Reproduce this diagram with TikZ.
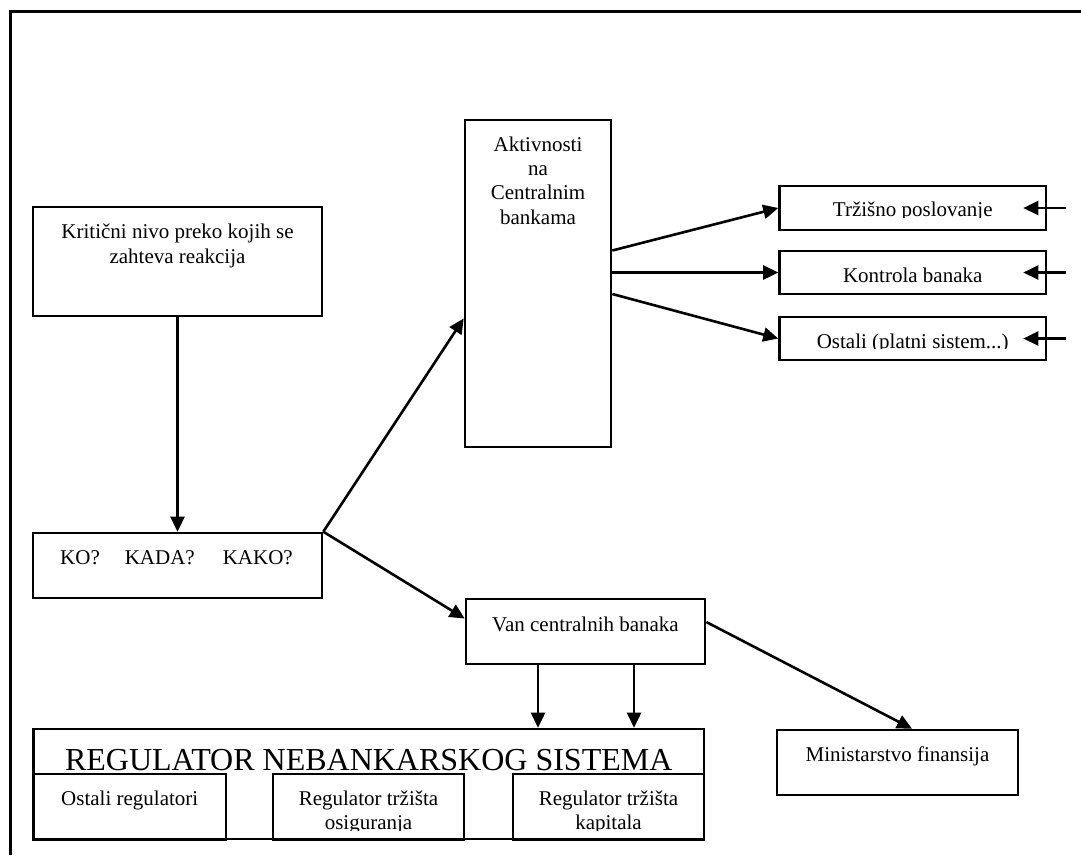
\documentclass[tikz,border=0pt]{standalone}
\usepackage{fontspec}
\setmainfont{Liberation Serif}
\usetikzlibrary{arrows.meta}
\begin{document}
\begin{tikzpicture}[x=1pt,y=-1pt,
  box/.style={draw, line width=2.6pt, inner sep=0pt},
  txt/.style={inner sep=0pt, anchor=base, align=center, font=\fontsize{21}{24.3}\selectfont},
  bigtxt/.style={inner sep=0pt, anchor=base, font=\fontsize{32}{36}\selectfont},
  arr/.style={line width=2.6pt, -{Triangle[length=15pt,width=14pt]}},
  frame/.style={line width=3pt}]
\useasboundingbox (0,0) rectangle (1081,855);
% outer frame (only top and left edges visible)
\draw[frame] (10,855) -- (10,11) -- (1081,11);
% boxes
\node[box, minimum width=289, minimum height=109] (krit) at (177.5,261.5) {};
\node[box, minimum width=289, minimum height=65] (ko) at (177.5,565.5) {};
\node[box, minimum width=146, minimum height=327] (akt) at (538,283.5) {};
\node[box, minimum width=266.5, minimum height=44] (tr) at (912.75,208) {};
\node[box, minimum width=266.5, minimum height=43] (kon) at (912.75,272.5) {};
\node[box, minimum width=266.5, minimum height=43] (ost) at (912.75,338.5) {};
\node[box, minimum width=239, minimum height=65] (van) at (585.5,631.5) {};
\node[box, minimum width=670.5, minimum height=110] (reg) at (368.75,784) {};
\node[box, minimum width=241, minimum height=65] (min) at (897.5,762.5) {};
% texts (base anchor = baseline of the last line)
\node[txt] (kritT) at (177.5,263) {Kritični nivo preko kojih se\\zahteva reakcija};
\node[txt] (koT) at (176.5,564) {KO?\hspace{25pt}KADA?\hspace{28pt}KAKO?};
\node[txt] (aktT) at (538,224) {Aktivnosti\\na\\Centralnim\\bankama};
\begin{scope}
  \clip (780,188) rectangle (1045,217.5);
  \node[txt] (trT) at (912.75,216.7) {Tržišno poslovanje};
\end{scope}
\node[txt] (konT) at (912.75,282.7) {Kontrola banaka};
\begin{scope}
  \clip (780,319) rectangle (1045,348.5);
  \node[txt] (ostT) at (912.75,348) {Ostali (platni sistem...)};
\end{scope}
\node[txt] (vanT) at (585.5,631.7) {Van centralnih banaka};
\node[bigtxt] (regT) at (368.75,770) {REGULATOR NEBANKARSKOG SISTEMA};
\node[txt] (minT) at (897.5,761.7) {Ministarstvo finansija};
% inner regulator boxes
\node[box, minimum width=192.5, minimum height=66] (r1) at (129.75,807) {};
\node[box, minimum width=191, minimum height=66] (r2) at (368.5,807) {};
\node[box, minimum width=191, minimum height=66] (r3) at (608.5,807) {};
\node[txt] (r1T) at (129.75,805) {Ostali regulatori};
\begin{scope}
  \clip (275,776) rectangle (462,830);
  \node[txt] (r2T) at (368.5,829.3) {Regulator tržišta\\osiguranja};
\end{scope}
\begin{scope}
  \clip (515,776) rectangle (702,830);
  \node[txt] (r3T) at (608.5,829.3) {Regulator tržišta\\kapitala};
\end{scope}
% connectors
\draw[arr] (krit.south) -- (ko.north);
\draw[arr] (ko.north east) -- ([yshift=-35pt]akt.west);
\draw[arr] (ko.north east) -- ([yshift=13pt]van.west);
\draw[arr] ([yshift=33pt]akt.east) -- (tr.west);
\draw[arr] (akt.east |- kon.west) -- (kon.west);
\draw[arr] ([yshift=-10.5pt]akt.east) -- (ost.west);
\coordinate (in1) at (1066,208);
\coordinate (in2) at (1066,272.5);
\coordinate (in3) at (1066,338.5);
\draw[arr] (in1) -- ([xshift=-24pt]tr.east);
\draw[arr] (in2) -- ([xshift=-24pt]kon.east);
\draw[arr] (in3) -- ([xshift=-24pt]ost.east);
\draw[arr] ([xshift=-47.5pt]van.south) -- ([xshift=-47.5pt]van.south |- reg.north);
\draw[arr] ([xshift=48.5pt]van.south) -- ([xshift=48.5pt]van.south |- reg.north);
\draw[arr] ([yshift=9.5pt]van.east) -- ([xshift=14.5pt]min.north);
\end{tikzpicture}
\end{document}
